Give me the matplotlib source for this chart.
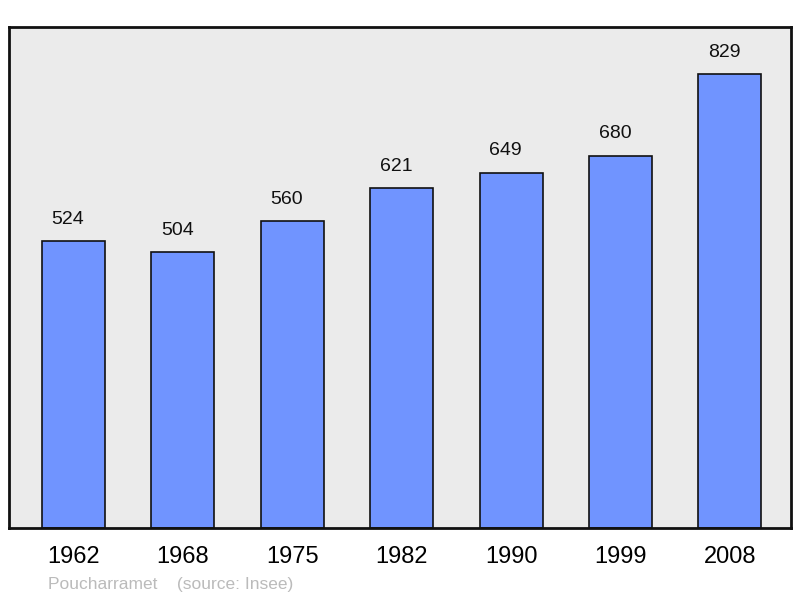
import matplotlib.pyplot as plt

# Population data
years = ['1962', '1968', '1975', '1982', '1990', '1999', '2008']
population = [524, 504, 560, 621, 649, 680, 829]

plt.rcParams['font.family'] = ['Liberation Sans', 'DejaVu Sans']

fig = plt.figure(figsize=(8, 5.98), dpi=100)
ax = fig.add_axes([9/800, 70/598, 782/800, 501/598])
ax.set_facecolor('#ebebeb')

x = range(len(years))
bars = ax.bar(x, population, width=0.576, color='#7094ff', edgecolor='#111111', linewidth=1.2, zorder=2)

ax.set_xlim(-0.59, 6.56)
ax.set_ylim(0, 915)

# value labels above bars
for bar in bars:
    h = bar.get_height()
    ax.annotate(f'{h:.0f}', (bar.get_x() + bar.get_width() / 2, h),
                xytext=(-4, 9.5), textcoords='offset points',
                ha='center', va='bottom', fontsize=14, color='#111111')

ax.set_xticks(list(x))
ax.set_xticklabels(years, fontsize=17)
ax.tick_params(axis='x', length=0, pad=13)
ax.set_yticks([])

for s in ax.spines.values():
    s.set_linewidth(2)
    s.set_color('#111111')

fig.text(48/800, 1 - 584/598, 'Poucharramet    (source: Insee)', fontsize=12.5,
         color='#bbbbbb', va='center', ha='left')

fig.savefig('out.png', dpi=100)
